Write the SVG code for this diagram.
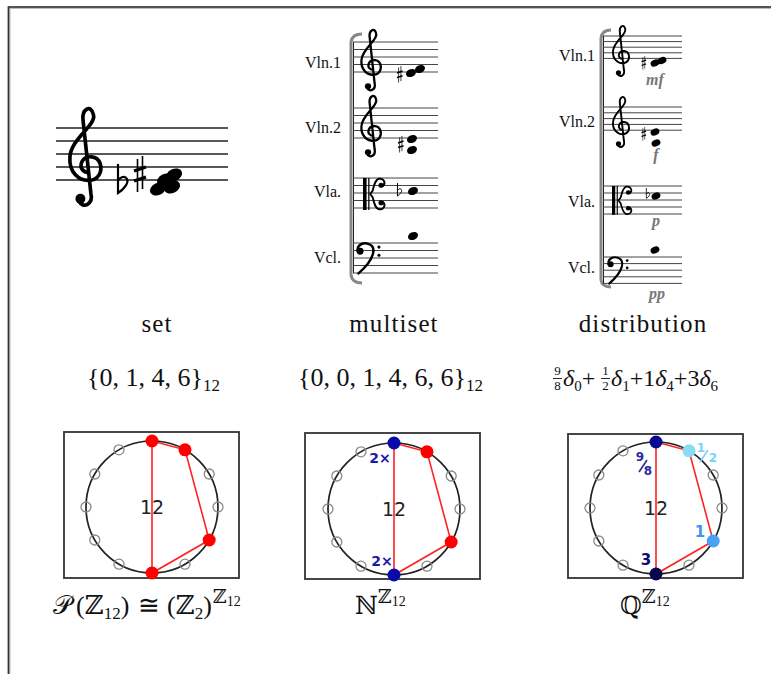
<svg xmlns="http://www.w3.org/2000/svg" xmlns:xlink="http://www.w3.org/1999/xlink" width="771" height="674" viewBox="0 0 771 674">
<style>
.staff{stroke:#444;stroke-width:1;fill:none}
.staff1{stroke:#222;stroke-width:1.6;fill:none}
.clef{fill:none;stroke:#000;stroke-linecap:round}
.inst{font-family:"Liberation Serif","DejaVu Serif",serif;font-size:16px;fill:#111;text-anchor:end}
.dyn{font-family:"Liberation Serif","DejaVu Serif",serif;font-size:16px;font-weight:bold;font-style:italic;fill:#777;text-anchor:middle}
.lbl{font-family:"Liberation Serif","DejaVu Serif",serif;font-size:25px;letter-spacing:1.1px;fill:#111;text-anchor:middle}
.math{font-family:"Liberation Serif","DejaVu Serif",serif;font-size:26px;fill:#111}
.box{fill:#fff;stroke:#333;stroke-width:1.8}
.ring{fill:none;stroke:#222;stroke-width:1.7}
.pc{fill:none;stroke:#8a8a8a;stroke-width:1.3}
.edge{stroke:#f22;stroke-width:1.6;fill:none}
.ctr{font-family:"DejaVu Sans",sans-serif;font-size:19px;fill:#222;text-anchor:middle}
.mult{font-family:"DejaVu Sans",sans-serif;font-weight:bold;text-anchor:middle}
.bracket{fill:none;stroke:#888;stroke-width:3}
</style>
<defs>
<g id="gclef">
<path class="clef" stroke-width="2.8" d="M 10 56 C 13 62, 21 58, 19 50 L 13 -6 C 12 -14, 19 -19, 21 -10 C 23 -2, 4 8, 3 22 C 2 34, 10 40, 17 40 C 25 40, 28 33, 26 27 C 24 21, 15 20, 12 26 C 10 31, 14 34, 17 34"/>
<circle cx="11" cy="54" r="3.8"/>
</g>
<g id="fclef">
<circle cx="5" cy="10" r="4.2"/>
<path class="clef" stroke-width="3" d="M 2 10 C 1 2, 9 -1, 15 1 C 25 4, 24 19, 3 37"/>
<circle cx="28" cy="5" r="1.9"/>
<circle cx="28" cy="15" r="1.9"/>
</g>
<g id="cclef">
<rect x="0" y="0" width="4.5" height="40"/>
<rect x="6.5" y="0" width="1.6" height="40"/>
<path class="clef" stroke-width="2.4" d="M 9 20 L 12 16 C 14 9, 15 2, 20 1 C 26 0, 29 6, 25 10 M 9 20 L 12 24 C 14 31, 15 38, 20 39 C 26 40, 29 34, 25 30"/>
<circle cx="22.5" cy="9" r="3.2"/>
<circle cx="22.5" cy="31" r="3.2"/>
</g>
<g id="flat">
<path d="M1 0 V29 C 7 25, 12 19, 10 15 C 8 11, 3 13, 1 17" fill="none" stroke="#000" stroke-width="2.2"/>
</g>
<g id="sharp">
<path d="M3.5 3 V36 M8.5 0 V33" fill="none" stroke="#000" stroke-width="1.6"/>
<path d="M0 15 L12 11 M0 25 L12 21" fill="none" stroke="#000" stroke-width="3.4"/>
</g>
</defs>
<rect width="771" height="674" fill="#fff"/>
<g id="frame">
<path d="M9 675 V7.5 H771" fill="none" stroke="#bbb" stroke-width="3"/>
<path d="M8.5 675 V7 H771" fill="none" stroke="#333" stroke-width="1.5"/>
</g>

<g id="set-score">
<path class="staff1" d="M56 128H228M56 141H228M56 154H228M56 167H228M56 180H228"/>
<use xlink:href="#gclef" transform="translate(66,128) scale(1.31)"/>
<use xlink:href="#flat" transform="translate(117,164)"/>
<use xlink:href="#sharp" transform="translate(134,156)"/>
<ellipse cx="158" cy="189" rx="8.5" ry="6" transform="rotate(-25 158 189)"/>
<ellipse cx="172" cy="187" rx="8.5" ry="6" transform="rotate(-25 172 187)"/>
<ellipse cx="165" cy="180" rx="8.5" ry="6" transform="rotate(-25 165 180)"/>
<ellipse cx="174" cy="175" rx="8.5" ry="6" transform="rotate(-25 174 175)"/>
</g>

<g id="multiset-score">
<path class="bracket" d="M362 34 Q352 34 351 42 V275 Q352 283 362 283"/>
<path d="M353.5 42 V273" stroke="#222" stroke-width="1"/>
<path class="staff" d="M353 42H438M353 49.5H438M353 57H438M353 64.5H438M353 72H438"/>
<path class="staff" d="M353 108H438M353 115.5H438M353 123H438M353 130.5H438M353 138H438"/>
<path class="staff" d="M353 178H438M353 185.5H438M353 193H438M353 200.5H438M353 208H438"/>
<path class="staff" d="M353 243H438M353 250.5H438M353 258H438M353 265.5H438M353 273H438"/>
<text class="inst" x="341" y="68">Vln.1</text>
<text class="inst" x="341" y="133">Vln.2</text>
<text class="inst" x="341" y="197">Vla.</text>
<text class="inst" x="341" y="263">Vcl.</text>
<use xlink:href="#gclef" transform="translate(359,42) scale(0.82)"/>
<use xlink:href="#gclef" transform="translate(359,108) scale(0.82)"/>
<use xlink:href="#cclef" transform="translate(363,178) scale(0.8)"/>
<use xlink:href="#fclef" transform="translate(356,243) scale(0.82)"/>
<use xlink:href="#sharp" transform="translate(397,66) scale(0.46)"/>
<ellipse cx="411" cy="73" rx="5.2" ry="3.8" transform="rotate(-25 411 73)"/>
<ellipse cx="420" cy="69" rx="5.2" ry="3.8" transform="rotate(-25 420 69)"/>
<use xlink:href="#sharp" transform="translate(398,136) scale(0.46)"/>
<ellipse cx="412" cy="139" rx="5.2" ry="3.8" transform="rotate(-25 412 139)"/>
<ellipse cx="412" cy="150" rx="5.2" ry="3.8" transform="rotate(-25 412 150)"/>
<use xlink:href="#flat" transform="translate(397,183) scale(0.45)"/>
<ellipse cx="413" cy="191" rx="5.2" ry="3.8" transform="rotate(-25 413 191)"/>
<ellipse cx="413" cy="236" rx="5.2" ry="3.8" transform="rotate(-25 413 236)"/>
</g>

<g id="distribution-score">
<path class="bracket" d="M611 30 Q602 30 601 38 V280 Q602 287 611 287"/>
<path d="M603.5 36 V284" stroke="#222" stroke-width="1"/>
<path class="staff" d="M603 36H682M603 41.6H682M603 47.2H682M603 52.8H682M603 58.4H682"/>
<path class="staff" d="M603 107H682M603 112.8H682M603 118.6H682M603 124.4H682M603 130.2H682"/>
<path class="staff" d="M603 186H682M603 193H682M603 200H682M603 207H682M603 214H682"/>
<path class="staff" d="M603 257H682M603 263.6H682M603 270.2H682M603 276.8H682M603 283.4H682"/>
<text class="inst" x="595" y="61">Vln.1</text>
<text class="inst" x="595" y="127">Vln.2</text>
<text class="inst" x="595" y="207">Vla.</text>
<text class="inst" x="595" y="273">Vcl.</text>
<use xlink:href="#gclef" transform="translate(611,36) scale(0.68)"/>
<use xlink:href="#gclef" transform="translate(611,107) scale(0.68)"/>
<use xlink:href="#cclef" transform="translate(612,186) scale(0.72)"/>
<use xlink:href="#fclef" transform="translate(607,257) scale(0.72)"/>
<use xlink:href="#sharp" transform="translate(641.5,56) scale(0.38)"/>
<ellipse cx="655" cy="63" rx="4.6" ry="3.4" transform="rotate(-25 655 63)"/>
<ellipse cx="662" cy="60.5" rx="4.6" ry="3.4" transform="rotate(-25 662 60.5)"/>
<use xlink:href="#sharp" transform="translate(641.5,127) scale(0.38)"/>
<ellipse cx="655" cy="132" rx="4.6" ry="3.4" transform="rotate(-25 655 132)"/>
<ellipse cx="656" cy="143" rx="4.6" ry="3.4" transform="rotate(-25 656 143)"/>
<use xlink:href="#flat" transform="translate(646,188) scale(0.36)"/>
<ellipse cx="656" cy="196" rx="4.6" ry="3.4" transform="rotate(-25 656 196)"/>
<ellipse cx="655" cy="250" rx="4.6" ry="3.4" transform="rotate(-25 655 250)"/>
<text class="dyn" x="655" y="85">mf</text>
<text class="dyn" x="656" y="160">f</text>
<text class="dyn" x="656" y="226">p</text>
<text class="dyn" x="657" y="299">pp</text>
</g>

<g id="labels">
<text class="lbl" x="157" y="332">set</text>
<text class="lbl" x="394" y="332">multiset</text>
<text class="lbl" x="643" y="332">distribution</text>
</g>

<g id="formulas">
<text class="math" x="87" y="386">{0, 1, 4, 6}<tspan style="font-size:17px" dy="5">12</tspan></text>
<text class="math" x="298" y="386">{0, 0, 1, 4, 6, 6}<tspan style="font-size:17px" dy="5">12</tspan></text>
<g id="dist-formula">
<text class="math" x="557.5" y="375" style="font-size:13px" text-anchor="middle">9</text>
<path d="M553 378.5H562" stroke="#111" stroke-width="0.9"/>
<text class="math" x="557.5" y="390" style="font-size:13px" text-anchor="middle">8</text>
<text class="math" x="563" y="386" style="font-size:24px"><tspan font-style="italic">δ</tspan><tspan style="font-size:15px" dy="5">0</tspan><tspan dy="-5">+</tspan></text>
<text class="math" x="605.5" y="375" style="font-size:13px" text-anchor="middle">1</text>
<path d="M601 378.5H610" stroke="#111" stroke-width="0.9"/>
<text class="math" x="605.5" y="390" style="font-size:13px" text-anchor="middle">2</text>
<text class="math" x="611" y="386" style="font-size:24px"><tspan font-style="italic">δ</tspan><tspan style="font-size:15px" dy="5">1</tspan><tspan dy="-5">+1</tspan><tspan font-style="italic">δ</tspan><tspan style="font-size:15px" dy="5">4</tspan><tspan dy="-5">+3</tspan><tspan font-style="italic">δ</tspan><tspan style="font-size:15px" dy="5">6</tspan></text>
</g>
<text class="math" y="614" style="font-size:26px"><tspan x="53">𝒫</tspan><tspan x="76">(ℤ</tspan><tspan style="font-size:17px" dy="5">12</tspan><tspan dy="-5">)</tspan><tspan x="138">≅</tspan><tspan x="167">(ℤ</tspan><tspan style="font-size:17px" dy="5">2</tspan><tspan dy="-5">)</tspan><tspan style="font-size:19px" dy="-11" dx="1">ℤ</tspan><tspan style="font-size:14px" dy="3">12</tspan></text>
<text class="math" x="355" y="614" style="font-size:25px">ℕ<tspan style="font-size:19px" dy="-11">ℤ</tspan><tspan style="font-size:14px" dy="3">12</tspan></text>
<text class="math" x="620" y="614" style="font-size:25px">ℚ<tspan style="font-size:19px" dy="-11">ℤ</tspan><tspan style="font-size:14px" dy="3">12</tspan></text>
</g>

<g id="clock-set">
<rect class="box" x="64" y="432" width="175" height="146"/>
<circle class="ring" cx="152" cy="507" r="66"/>
<circle class="pc" cx="209.2" cy="474" r="5"/>
<circle class="pc" cx="218" cy="507" r="5"/>
<circle class="pc" cx="185" cy="564.2" r="5"/>
<circle class="pc" cx="119" cy="564.2" r="5"/>
<circle class="pc" cx="94.8" cy="540" r="5"/>
<circle class="pc" cx="86" cy="507" r="5"/>
<circle class="pc" cx="94.8" cy="474" r="5"/>
<circle class="pc" cx="119" cy="449.8" r="5"/>
<text class="ctr" x="152" y="514">12</text>
<path class="edge" d="M152 441 L185 449.8 L209.2 540 L152 573 Z"/>
<circle cx="152" cy="441" r="6.5" fill="#f00"/>
<circle cx="185" cy="449.8" r="6.5" fill="#f00"/>
<circle cx="209.2" cy="540" r="6.5" fill="#f00"/>
<circle cx="152" cy="573" r="6.5" fill="#f00"/>
</g>

<g id="clock-multiset">
<rect class="box" x="305" y="433" width="175" height="146"/>
<circle class="ring" cx="394" cy="509" r="66"/>
<circle class="pc" cx="451.2" cy="476" r="5"/>
<circle class="pc" cx="460" cy="509" r="5"/>
<circle class="pc" cx="427" cy="566.2" r="5"/>
<circle class="pc" cx="361" cy="566.2" r="5"/>
<circle class="pc" cx="336.8" cy="542" r="5"/>
<circle class="pc" cx="328" cy="509" r="5"/>
<circle class="pc" cx="336.8" cy="476" r="5"/>
<circle class="pc" cx="361" cy="451.8" r="5"/>
<text class="ctr" x="394" y="516">12</text>
<path class="edge" d="M394 443 L427 451.8 L451.2 542 L394 575 Z"/>
<circle cx="394" cy="443" r="6.5" fill="#0a0aa8"/>
<circle cx="427" cy="451.8" r="6.5" fill="#f00"/>
<circle cx="451.2" cy="542" r="6.5" fill="#f00"/>
<circle cx="394" cy="575" r="6.5" fill="#0a0aa8"/>
<text class="mult" x="380" y="463" fill="#1a1aa8" style="font-size:14px">2×</text>
<text class="mult" x="382" y="566" fill="#1a1aa8" style="font-size:14px">2×</text>
</g>

<g id="clock-distribution">
<rect class="box" x="568" y="434" width="175" height="144"/>
<circle class="ring" cx="656" cy="508" r="66"/>
<circle class="pc" cx="713.2" cy="475" r="5"/>
<circle class="pc" cx="722" cy="508" r="5"/>
<circle class="pc" cx="689" cy="565.2" r="5"/>
<circle class="pc" cx="623" cy="565.2" r="5"/>
<circle class="pc" cx="598.8" cy="541" r="5"/>
<circle class="pc" cx="590" cy="508" r="5"/>
<circle class="pc" cx="598.8" cy="475" r="5"/>
<circle class="pc" cx="623" cy="450.8" r="5"/>
<text class="ctr" x="656" y="515">12</text>
<path class="edge" d="M656 442 L689 450.8 L713.2 541 L656 574 Z"/>
<circle cx="656" cy="442" r="6.5" fill="#0a0a90"/>
<circle cx="689" cy="450.8" r="6.5" fill="#88ddf4"/>
<circle cx="713.2" cy="541" r="6.5" fill="#4aa2f4"/>
<circle cx="656" cy="574" r="6.5" fill="#06064f"/>
<text class="mult" x="640" y="461" fill="#2a2aa0" style="font-size:12px">9</text>
<path d="M639 472 L647 460" stroke="#2a2aa0" stroke-width="1.6"/>
<text class="mult" x="648" y="475" fill="#2a2aa0" style="font-size:12px">8</text>
<text class="mult" x="701" y="452" fill="#77d4f2" style="font-size:12px">1</text>
<path d="M700 462 L708 450" stroke="#77d4f2" stroke-width="1.6"/>
<text class="mult" x="713" y="462" fill="#77d4f2" style="font-size:12px">2</text>
<text class="mult" x="700" y="537" fill="#3a96ee" style="font-size:15px">1</text>
<text class="mult" x="646" y="565" fill="#0a0a70" style="font-size:15px">3</text>
</g>
</svg>
